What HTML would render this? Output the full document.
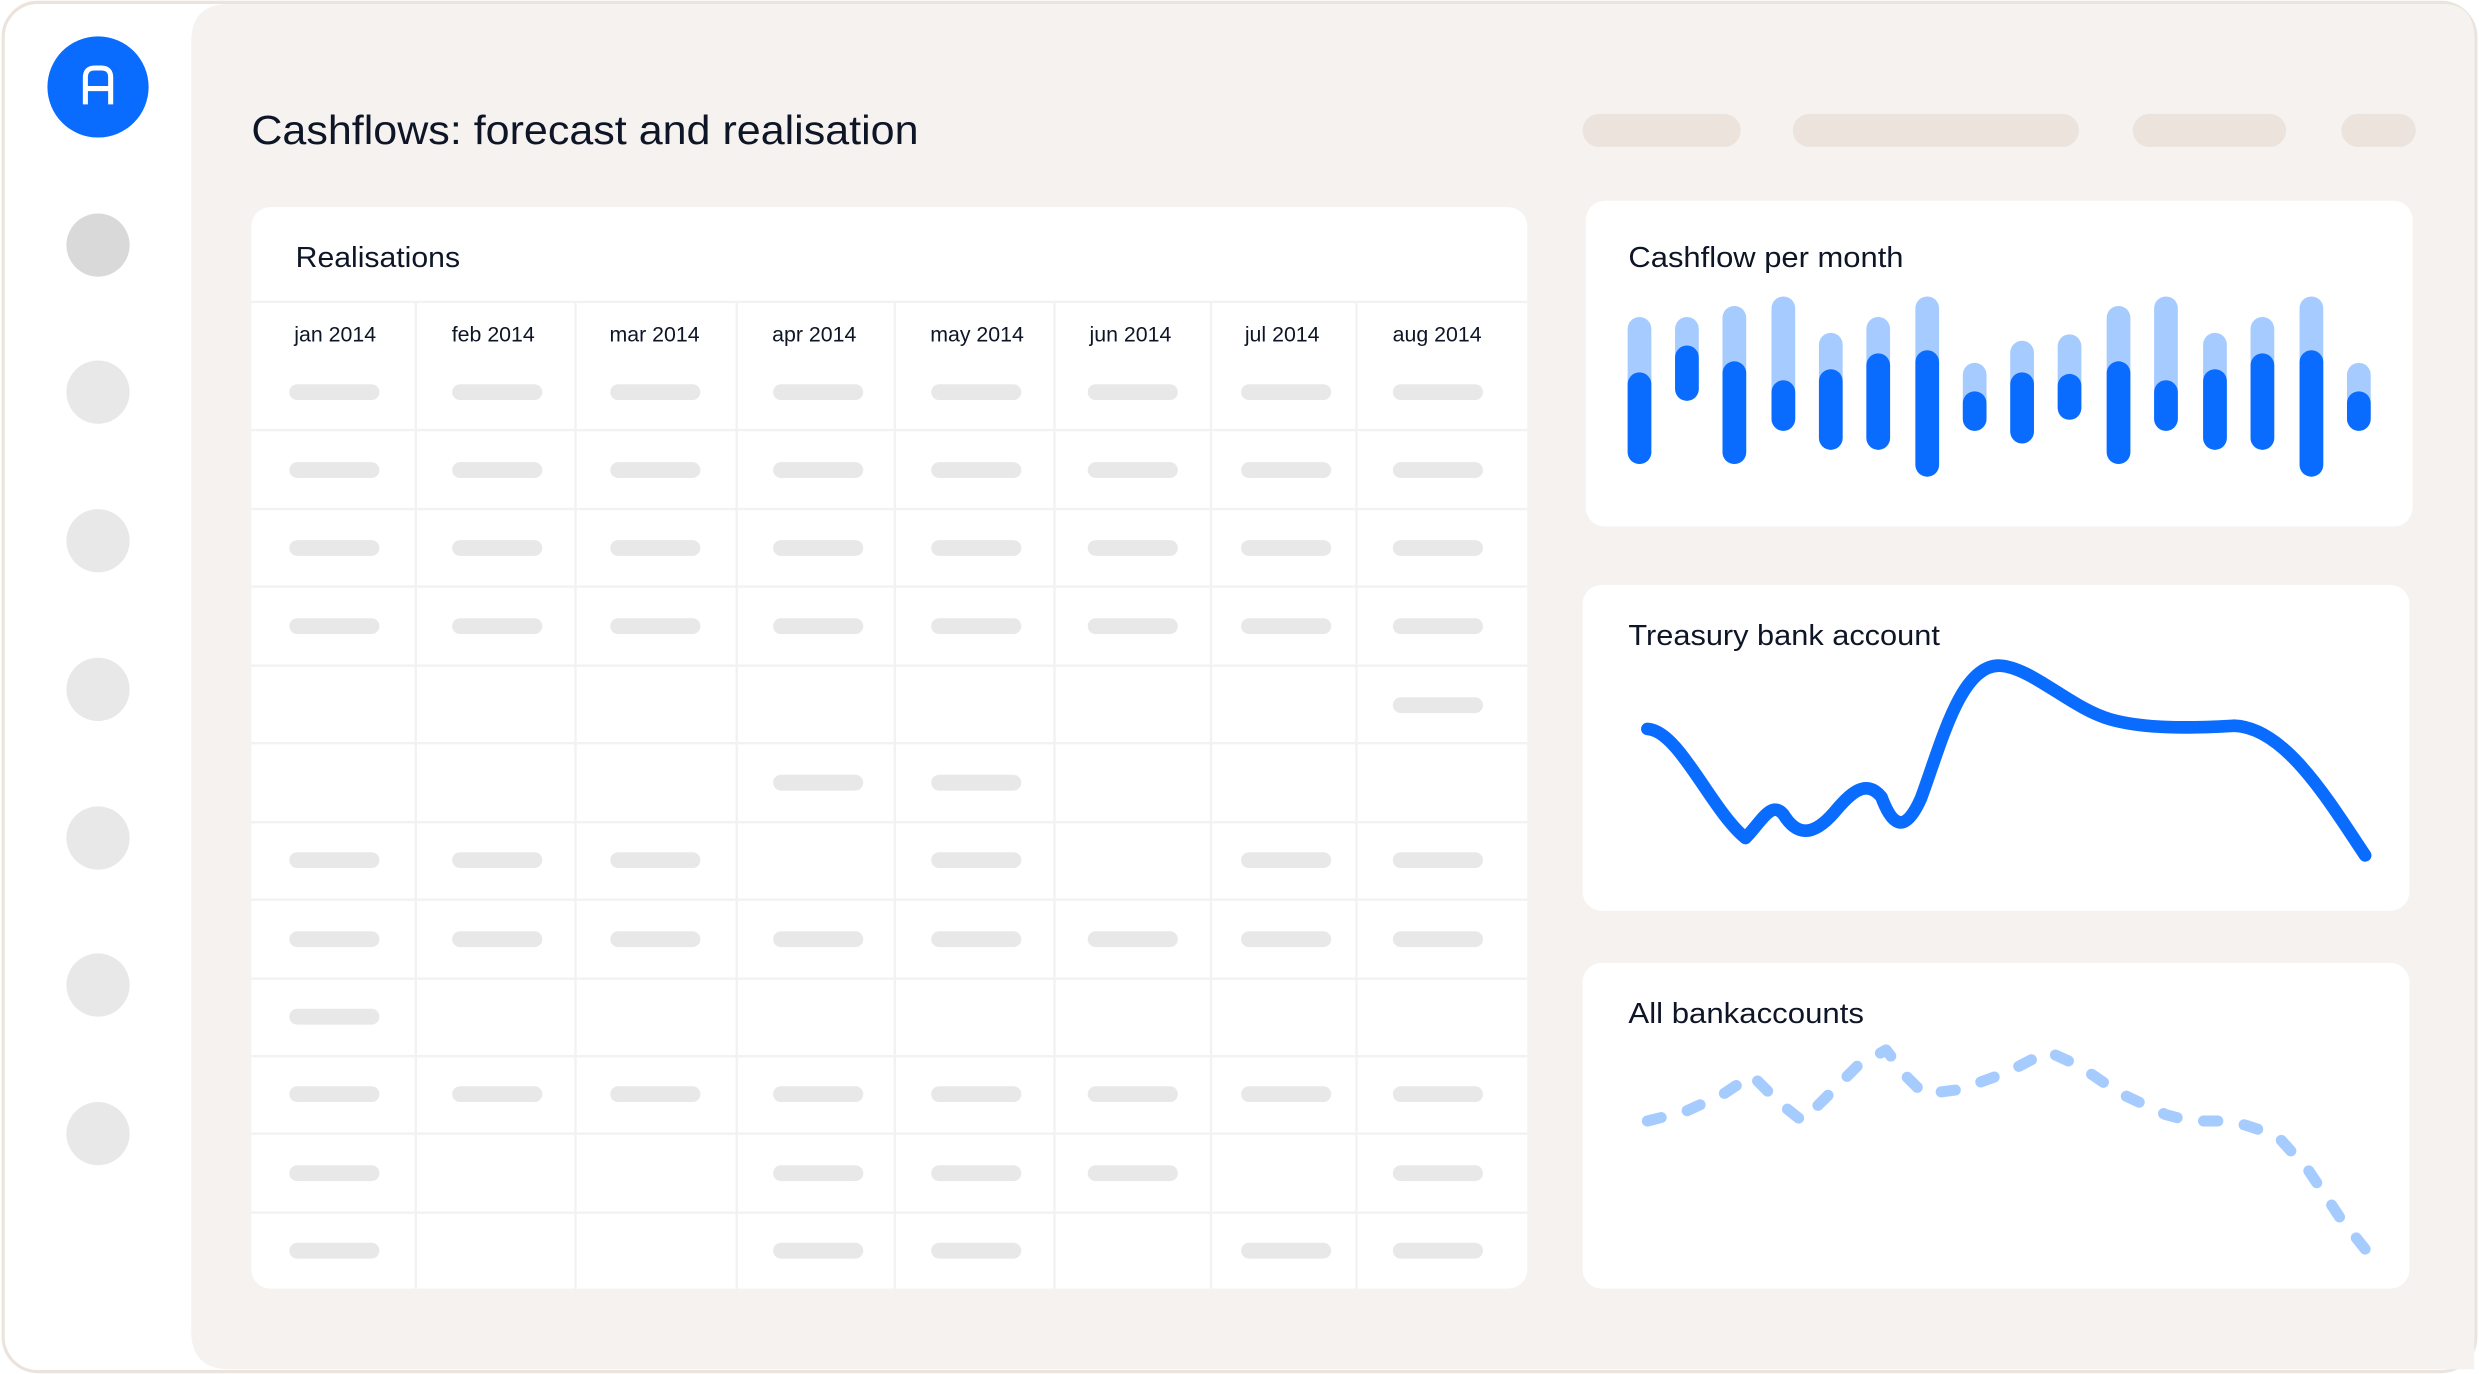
<!DOCTYPE html>
<html><head><meta charset="utf-8"><style>
html,body{margin:0;padding:0;background:#fff;width:2479px;height:1374px;overflow:hidden}
svg{display:block}
text{font-family:"Liberation Sans",sans-serif;fill:#0d1526}
</style></head><body>
<svg width="2479" height="1374" viewBox="0 0 1568 869" preserveAspectRatio="none" xmlns="http://www.w3.org/2000/svg">
<rect x="2" y="1.5" width="1564" height="866" rx="22" fill="#fff" stroke="#ebe3dc" stroke-width="2"/>
<path d="M145 2.5 H1545 Q1565 2.5 1565 24 V866 H145 Q121 866 121 842 V26 Q121 2.5 145 2.5 Z" fill="#f5f2ef"/>
<circle cx="62" cy="55" r="32" fill="#0a6cff"/>
<path d="M54 66 V49 Q54 43 60 43 H64 Q70 43 70 49 V66 M54 56 H70" fill="none" stroke="#fff" stroke-width="3.2"/>
<circle cx="62" cy="155" r="20" fill="#d9d9d9"/>
<g fill="#e8e8e8"><circle cx="62" cy="248" r="20"/><circle cx="62" cy="342" r="20"/><circle cx="62" cy="436" r="20"/><circle cx="62" cy="530" r="20"/><circle cx="62" cy="623" r="20"/><circle cx="62" cy="717" r="20"/></g>
<text x="159" y="91" font-size="25.5" textLength="422" lengthAdjust="spacingAndGlyphs">Cashflows: forecast and realisation</text>
<g fill="#ebe3dc"><rect x="1001" y="72" width="100" height="21" rx="10.5"/><rect x="1134" y="72" width="181" height="21" rx="10.5"/><rect x="1349" y="72" width="97" height="21" rx="10.5"/><rect x="1481" y="72" width="47" height="21" rx="10.5"/></g>
<rect x="159" y="131" width="807" height="684" rx="12" fill="#fff"/>
<text x="187" y="169" font-size="18" textLength="104" lengthAdjust="spacingAndGlyphs">Realisations</text>
<g stroke="#f2f2f2" stroke-width="1.5">
<line x1="159" y1="191" x2="966" y2="191"/><line x1="159" y1="272" x2="966" y2="272"/><line x1="159" y1="322" x2="966" y2="322"/><line x1="159" y1="371" x2="966" y2="371"/><line x1="159" y1="421" x2="966" y2="421"/><line x1="159" y1="470" x2="966" y2="470"/><line x1="159" y1="520" x2="966" y2="520"/><line x1="159" y1="569" x2="966" y2="569"/><line x1="159" y1="619" x2="966" y2="619"/><line x1="159" y1="668" x2="966" y2="668"/><line x1="159" y1="717" x2="966" y2="717"/><line x1="159" y1="767" x2="966" y2="767"/>
<line x1="263" y1="191" x2="263" y2="815"/><line x1="364" y1="191" x2="364" y2="815"/><line x1="466" y1="191" x2="466" y2="815"/><line x1="566" y1="191" x2="566" y2="815"/><line x1="667" y1="191" x2="667" y2="815"/><line x1="766" y1="191" x2="766" y2="815"/><line x1="858" y1="191" x2="858" y2="815"/>
</g>
<g font-size="13.5" text-anchor="middle">
<text x="212" y="216">jan 2014</text><text x="312" y="216">feb 2014</text><text x="414" y="216">mar 2014</text><text x="515" y="216">apr 2014</text><text x="618" y="216">may 2014</text><text x="715" y="216">jun 2014</text><text x="811" y="216">jul 2014</text><text x="909" y="216">aug 2014</text>
</g>
<g fill="#e8e8e8">
<g id="full"><rect x="183" y="243" width="57" height="10" rx="5"/><rect x="286" y="243" width="57" height="10" rx="5"/><rect x="386" y="243" width="57" height="10" rx="5"/><rect x="489" y="243" width="57" height="10" rx="5"/><rect x="589" y="243" width="57" height="10" rx="5"/><rect x="688" y="243" width="57" height="10" rx="5"/><rect x="785" y="243" width="57" height="10" rx="5"/><rect x="881" y="243" width="57" height="10" rx="5"/></g>
<use href="#full" y="49.3"/><use href="#full" y="98.6"/><use href="#full" y="148"/><use href="#full" y="346"/><use href="#full" y="444"/>
<rect x="881" y="441" width="57" height="10" rx="5"/>
<rect x="489" y="490" width="57" height="10" rx="5"/><rect x="589" y="490" width="57" height="10" rx="5"/>
<rect x="183" y="539" width="57" height="10" rx="5"/><rect x="286" y="539" width="57" height="10" rx="5"/><rect x="386" y="539" width="57" height="10" rx="5"/><rect x="589" y="539" width="57" height="10" rx="5"/><rect x="785" y="539" width="57" height="10" rx="5"/><rect x="881" y="539" width="57" height="10" rx="5"/>
<rect x="183" y="638" width="57" height="10" rx="5"/>
<rect x="183" y="737" width="57" height="10" rx="5"/><rect x="489" y="737" width="57" height="10" rx="5"/><rect x="589" y="737" width="57" height="10" rx="5"/><rect x="688" y="737" width="57" height="10" rx="5"/><rect x="881" y="737" width="57" height="10" rx="5"/>
<rect x="183" y="786" width="57" height="10" rx="5"/><rect x="489" y="786" width="57" height="10" rx="5"/><rect x="589" y="786" width="57" height="10" rx="5"/><rect x="785" y="786" width="57" height="10" rx="5"/><rect x="881" y="786" width="57" height="10" rx="5"/>
</g>
<rect x="1003" y="127" width="523" height="206" rx="12" fill="#fff"/>
<text x="1030" y="169" font-size="18" textLength="174" lengthAdjust="spacingAndGlyphs">Cashflow per month</text>
<g stroke-linecap="round" stroke-width="15">
<g stroke="#a6cbff">
<line x1="1037" y1="208" x2="1037" y2="286"/><line x1="1067" y1="208" x2="1067" y2="246"/><line x1="1097" y1="201" x2="1097" y2="286"/><line x1="1128" y1="195" x2="1128" y2="265"/><line x1="1158" y1="218" x2="1158" y2="277"/><line x1="1188" y1="208" x2="1188" y2="277"/><line x1="1219" y1="195" x2="1219" y2="294"/><line x1="1249" y1="237" x2="1249" y2="265"/><line x1="1279" y1="223" x2="1279" y2="273"/><line x1="1309" y1="219" x2="1309" y2="258"/><line x1="1340" y1="201" x2="1340" y2="286"/><line x1="1370" y1="195" x2="1370" y2="265"/><line x1="1401" y1="218" x2="1401" y2="277"/><line x1="1431" y1="208" x2="1431" y2="277"/><line x1="1462" y1="195" x2="1462" y2="294"/><line x1="1492" y1="237" x2="1492" y2="265"/>
</g>
<g stroke="#0a6cff">
<line x1="1037" y1="243" x2="1037" y2="286"/><line x1="1067" y1="226" x2="1067" y2="246"/><line x1="1097" y1="236" x2="1097" y2="286"/><line x1="1128" y1="248" x2="1128" y2="265"/><line x1="1158" y1="241" x2="1158" y2="277"/><line x1="1188" y1="231" x2="1188" y2="277"/><line x1="1219" y1="229" x2="1219" y2="294"/><line x1="1249" y1="255" x2="1249" y2="265"/><line x1="1279" y1="243" x2="1279" y2="273"/><line x1="1309" y1="244" x2="1309" y2="258"/><line x1="1340" y1="236" x2="1340" y2="286"/><line x1="1370" y1="248" x2="1370" y2="265"/><line x1="1401" y1="241" x2="1401" y2="277"/><line x1="1431" y1="231" x2="1431" y2="277"/><line x1="1462" y1="229" x2="1462" y2="294"/><line x1="1492" y1="255" x2="1492" y2="265"/>
</g></g>
<rect x="1001" y="370" width="523" height="206" rx="12" fill="#fff"/>
<text x="1030" y="408" font-size="18" textLength="197" lengthAdjust="spacingAndGlyphs">Treasury bank account</text>
<path d="M1042 461 C1062 462 1082 512 1104 530 C1114 520 1120 506 1128 515 C1136 528 1146 530 1160 514 C1170 502 1180 492 1190 504 C1196 520 1204 530 1215 505 C1228 470 1240 420 1265 421 C1285 422 1310 448 1335 455 C1360 462 1395 460 1413 459 C1445 460 1472 505 1496 541" fill="none" stroke="#0a6cff" stroke-width="8" stroke-linecap="round" stroke-linejoin="round"/>
<rect x="1001" y="609" width="523" height="206" rx="12" fill="#fff"/>
<text x="1030" y="647" font-size="18" textLength="149" lengthAdjust="spacingAndGlyphs">All bankaccounts</text>
<path d="M1042 709 L1066 703 L1090 692 L1108 680 L1125 697 L1140 709 L1155 694 L1175 674 L1193 664 L1205 680 L1217 692 L1240 689 L1270 678 L1295 665 L1315 674 L1340 691 L1370 705 L1385 709 L1412 709 L1440 718 L1460 740 L1480 770 L1496 790" fill="none" stroke="#a6cbff" stroke-width="7" stroke-linecap="round" stroke-linejoin="round" stroke-dasharray="9 17"/>
</svg>
</body></html>
